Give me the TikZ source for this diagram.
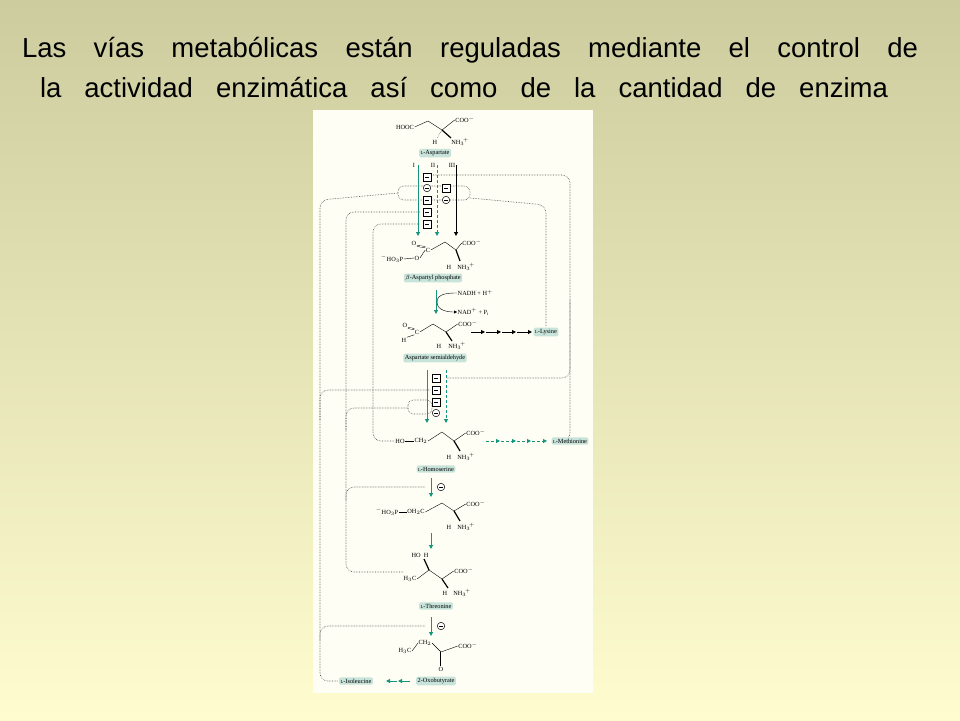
\documentclass[tikz,border=0pt]{standalone}
\usepackage{fontspec}
\setmainfont{Liberation Serif}
\newfontfamily\titlefont{Liberation Sans}
\usetikzlibrary{arrows.meta}
\definecolor{tealc}{RGB}{20,150,125}
\definecolor{lblc}{RGB}{200,228,218}
\definecolor{bgA}{RGB}{204,204,158}
\definecolor{bgB}{RGB}{255,253,208}
\newcommand{\Lsc}{{\fontsize{4.5}{4.5}\selectfont L}}
\newcommand{\NHt}{NH$_3$$^{\!+}$}
\tikzset{
 tiny/.style={font=\fontsize{6.3}{7}\selectfont, inner sep=0.5pt},
 lbl/.style={tiny, fill=lblc, rounded corners=1.5pt, inner sep=1.5pt},
 inh/.style={draw, line width=0.5pt, fill=white, minimum size=7.5pt, inner sep=0pt,
   path picture={\draw[line width=0.6pt] ([xshift=-2pt]path picture bounding box.center) -- ([xshift=2pt]path picture bounding box.center);}},
 inhc/.style={inh, circle},
 fb/.style={densely dotted, gray!60!black, line width=0.6pt, rounded corners=8pt},
 tarr/.style={tealc, line width=1pt, -{Triangle[length=4pt,width=4pt]}},
 tdarr/.style={tarr, densely dashed},
 barr/.style={black, line width=1pt, -{Triangle[length=4pt,width=4pt]}},
 bond/.style={line width=0.4pt}
}
\begin{document}
\begin{tikzpicture}[x=1pt,y=-1pt]
\useasboundingbox (0,0) rectangle (960,720);
\shade[shading angle=135, top color=bgA, bottom color=bgB] (0,0) rectangle (960,720);
% title
\node[font=\titlefont\fontsize{27.5}{30}\selectfont] (t1) at (470,50) {\makebox[896pt][s]{Las vías metabólicas están reguladas mediante el control de}};
\node[font=\titlefont\fontsize{27.5}{30}\selectfont] (t2) at (464,88) {\makebox[848pt][s]{la actividad enzimática así como de la cantidad de enzima}};
% panel
\fill[white!96!yellow] (313,110) rectangle (593,693);
% feedback lines
\draw[fb] (398,193) -- (320,200) -- (320,681) -- (338,681);
\draw[fb] (403,572) -- (346,572) -- (346,212) -- (420,212);
\draw[fb] (394,441) -- (373,441) -- (373,224) -- (420,224);
\draw[fb] (562,441) -- (570,441) -- (570,175) -- (432,175);
\draw[fb] (546,326) -- (546,205) -- (470,198);
\draw[fb, rounded corners=6pt] (398,186) rectangle (470,200);
\draw[fb] (570,300) -- (570,378) -- (446,378);
\draw[fb] (320,420) -- (320,390) -- (430,390);
\draw[fb, rounded corners=5pt] (408,400) rectangle (432,414);
\draw[fb] (346,430) -- (346,408) -- (408,408);
\draw[fb] (346,500) -- (346,487) -- (425,487);
\draw[fb] (320,640) -- (320,626) -- (425,626);
% aspartate
\node[tiny] (hooc) at (405,127) {HOOC};
\node[tiny] (coo1) at (465,120) {COO$^-$};
\node[tiny] (h1) at (435,142) {H};
\node[tiny] (nh1) at (460,142) {\NHt};
\draw[bond] (hooc.east) -- (428,121) -- (442,130) -- (coo1.west);
\draw[line width=1.2pt] (442,130) -- (451,138);
\draw[bond,densely dotted] (442,130) -- (437,138);
\node[lbl] (asp) at (435,153) {\Lsc-Aspartate};
% three enzymes
\node[tiny] (nI) at (414,165) {I};
\node[tiny] (nII) at (433,165) {II};
\node[tiny] (nIII) at (452,165) {III};
\coordinate (a1s) at (418,165); \coordinate (a1e) at (418,236);
\coordinate (a2s) at (437,165); \coordinate (a2e) at (437,236);
\coordinate (a3s) at (456,165); \coordinate (a3e) at (456,236);
\draw[tarr] (a1s) -- (a1e);
\draw[tdarr] (a2s) -- (a2e);
\draw[barr] (a3s) -- (a3e);
\node[inh] (b1) at (427,177) {};
\node[inhc] (b2) at (427,188) {};
\node[inh] (b3) at (427,200) {};
\node[inh] (b4) at (427,212) {};
\node[inh] (b5) at (427,224) {};
\node[inh] (b6) at (446,188) {};
\node[inhc] (b7) at (446,200) {};
% aspartyl phosphate
\node[tiny] (o2) at (414,243) {O};
\node[tiny] (c2) at (428,250) {C};
\node[tiny] (hop) at (392,259) {$^-$HO$_3$P};
\node[tiny] (o2b) at (417,258) {O};
\node[tiny] (coo2) at (472,243) {COO$^-$};
\node[tiny] (h2) at (449,267) {H};
\node[tiny] (nh2) at (466,267) {\NHt};
\draw[bond] (hop.east) -- (o2b.west);
\draw[bond] (o2b.east) -- (c2.west);
\draw[bond,double,double distance=0.8pt] (o2.south east) -- (c2.north west);
\draw[bond] (c2.east) -- (445,242) -- (456,250) -- (coo2.west);
\draw[line width=1.2pt] (456,250) -- (460,261);
\node[lbl] (asph) at (433,278) {$\beta$-Aspartyl phosphate};
\draw[tarr] (436,290) -- (436,314);
\node[tiny, anchor=west] (nadh) at (457,293) {NADH + H$^+$};
\node[tiny, anchor=west] (nad) at (457,312) {NAD$^+$ + P$_\mathrm{i}$};
\draw[bond,-{Triangle[length=3pt,width=3pt]}] (nadh.west) to[out=180,in=90] (437,302) to[out=-90,in=180] (nad.west);
% semialdehyde
\node[tiny] (o3) at (405,325) {O};
\node[tiny] (c3) at (417,332) {C};
\node[tiny] (h3) at (404,340) {H};
\node[tiny] (coo3) at (468,324) {COO$^-$};
\node[tiny] (h3b) at (439,346) {H};
\node[tiny] (nh3) at (457,346) {\NHt};
\draw[bond] (c3.east) -- (433,324) -- (446,332) -- (coo3.west);
\draw[bond] (c3.south west) -- (h3.north east);
\draw[bond,double,double distance=0.8pt] (o3.south east) -- (c3.north west);
\draw[line width=1.2pt] (446,332) -- (452,341);
\node[lbl] (asa) at (435,358) {Aspartate semialdehyde};
\node[lbl] (lys) at (546,332) {\Lsc-Lysine};
\coordinate (k0) at (470,332); \coordinate (k1) at (485,332); \coordinate (k2) at (501,332); \coordinate (k3) at (516,332); \coordinate (k4) at (532,332);
\foreach \p/\q in {k0/k1,k1/k2,k2/k3,k3/k4} \draw[barr] ([xshift=1pt]\p) -- (\q);
% homoserine step
\draw[tarr] (427,370) -- (427,423);
\draw[tdarr] (446,370) -- (446,423);
\node[inh] (c1) at (436,378) {};
\node[inh] (c2b) at (436,390) {};
\node[inh] (c3b) at (436,402) {};
\node[inhc] (c4) at (436,413) {};
% homoserine
\node[tiny] (ho4) at (400,441) {HO};
\node[tiny] (ch4) at (421,441) {CH$_2$};
\node[tiny] (coo4) at (476,433) {COO$^-$};
\node[tiny] (h4) at (449,457) {H};
\node[tiny] (nh4) at (466,457) {\NHt};
\draw[bond] (ho4.east) -- (ch4.west);
\draw[bond] (ch4.east) -- (442,432) -- (454,441) -- (coo4.west);
\draw[line width=1.2pt] (454,441) -- (460,451);
\node[lbl] (hse) at (436,469) {\Lsc-Homoserine};
\node[lbl] (met) at (570,441) {\Lsc-Methionine};
\coordinate (m0) at (485,441); \coordinate (m1) at (500,441); \coordinate (m2) at (516,441); \coordinate (m3) at (531,441); \coordinate (m4) at (547,441);
\foreach \p/\q in {m0/m1,m1/m2,m2/m3,m3/m4} \draw[tdarr] ([xshift=1pt]\p) -- (\q);
% phosphohomoserine
\draw[tarr] (431,478) -- (431,497);
\node[inhc] (d1) at (441,487) {};
\node[tiny] (hop5) at (387,512) {$^-$HO$_3$P};
\node[tiny] (oh5) at (416,512) {OH$_2$C};
\node[tiny] (coo5) at (476,504) {COO$^-$};
\node[tiny] (h5) at (449,527) {H};
\node[tiny] (nh5) at (466,527) {\NHt};
\draw[bond] (hop5.east) -- (oh5.west);
\draw[bond] (oh5.east) -- (442,503) -- (454,511) -- (coo5.west);
\draw[line width=1.2pt] (454,511) -- (460,521);
\draw[tarr] (431,533) -- (431,549);
% threonine
\node[tiny] (ho6) at (420,555) {HO\ \ H};
\node[tiny] (h3c6) at (410,579) {H$_3$C};
\node[tiny] (coo6) at (464,571) {COO$^-$};
\node[tiny] (h6) at (445,593) {H};
\node[tiny] (nh6) at (462,593) {\NHt};
\draw[bond] (h3c6.east) -- (429,570) -- (442,579) -- (coo6.west);
\draw[line width=1.2pt] (429,570) -- (424,559);
\draw[line width=1.2pt] (442,579) -- (448,588);
\node[lbl] (thr) at (436,606) {\Lsc-Threonine};
\draw[tarr] (431,617) -- (431,636);
\node[inhc] (e1) at (441,626) {};
% oxobutyrate
\node[tiny] (h3c7) at (405,651) {H$_3$C};
\node[tiny] (ch7) at (425,643) {CH$_2$};
\node[tiny] (coo7) at (468,646) {COO$^-$};
\node[tiny] (o7) at (441,669) {O};
\draw[bond] (h3c7.east) -- (ch7.west);
\draw[bond] (ch7.east) -- (441,652) -- (coo7.west);
\draw[bond,double,double distance=0.8pt] (441,652) -- (o7.north);
\node[lbl] (oxo) at (436,681) {2-Oxobutyrate};
\node[lbl] (ile) at (356,681) {\Lsc-Isoleucine};
\coordinate (i0) at (410,681); \coordinate (i1) at (398,681); \coordinate (i2) at (386,681);
\draw[tarr] (i0) -- (i1);
\draw[tarr] ([xshift=-1pt]i1) -- (i2);
\end{tikzpicture}
\end{document}
